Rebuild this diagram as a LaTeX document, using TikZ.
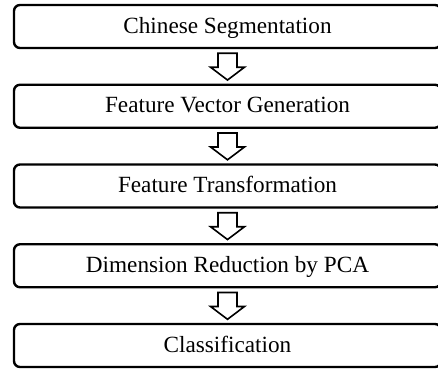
\documentclass[tikz,border=0pt]{standalone}
\usepackage{fontspec}
\setmainfont{Liberation Serif}
\usetikzlibrary{calc}
\tikzset{
  stepbox/.style={draw, line width=2.4bp, rounded corners=6bp, minimum width=427bp,
    minimum height=43bp, inner sep=0pt, anchor=center, text depth=3bp,
    font=\fontsize{23.3}{28}\selectfont},
  blockarrow/.style={draw, line width=1.6bp, fill=white, line join=miter}
}
\begin{document}
\begin{tikzpicture}[x=1bp, y=-1bp]
\useasboundingbox (0,0) rectangle (438,368);
\node[stepbox] (a) at (227.5,26.5) {Chinese Segmentation};
\node[stepbox] (b) at (227.5,106.25) {Feature Vector Generation};
\node[stepbox] (c) at (227.5,186) {Feature Transformation};
\node[stepbox] (d) at (227.5,265.75) {Dimension Reduction by PCA};
\node[stepbox] (e) at (227.5,345.5) {Classification};
\foreach \u/\v in {a/b, b/c, c/d, d/e}{
  \draw[blockarrow]
    ($(\u.south)+(-9.5,4)$) -- ($(\u.south)+(-9.5,18)$) -- ($(\u.south)+(-17,18)$)
    -- ($(\v.north)+(0,-3.5)$)
    -- ($(\u.south)+(17,18)$) -- ($(\u.south)+(9.5,18)$) -- ($(\u.south)+(9.5,4)$) -- cycle;
}
\end{tikzpicture}
\end{document}
